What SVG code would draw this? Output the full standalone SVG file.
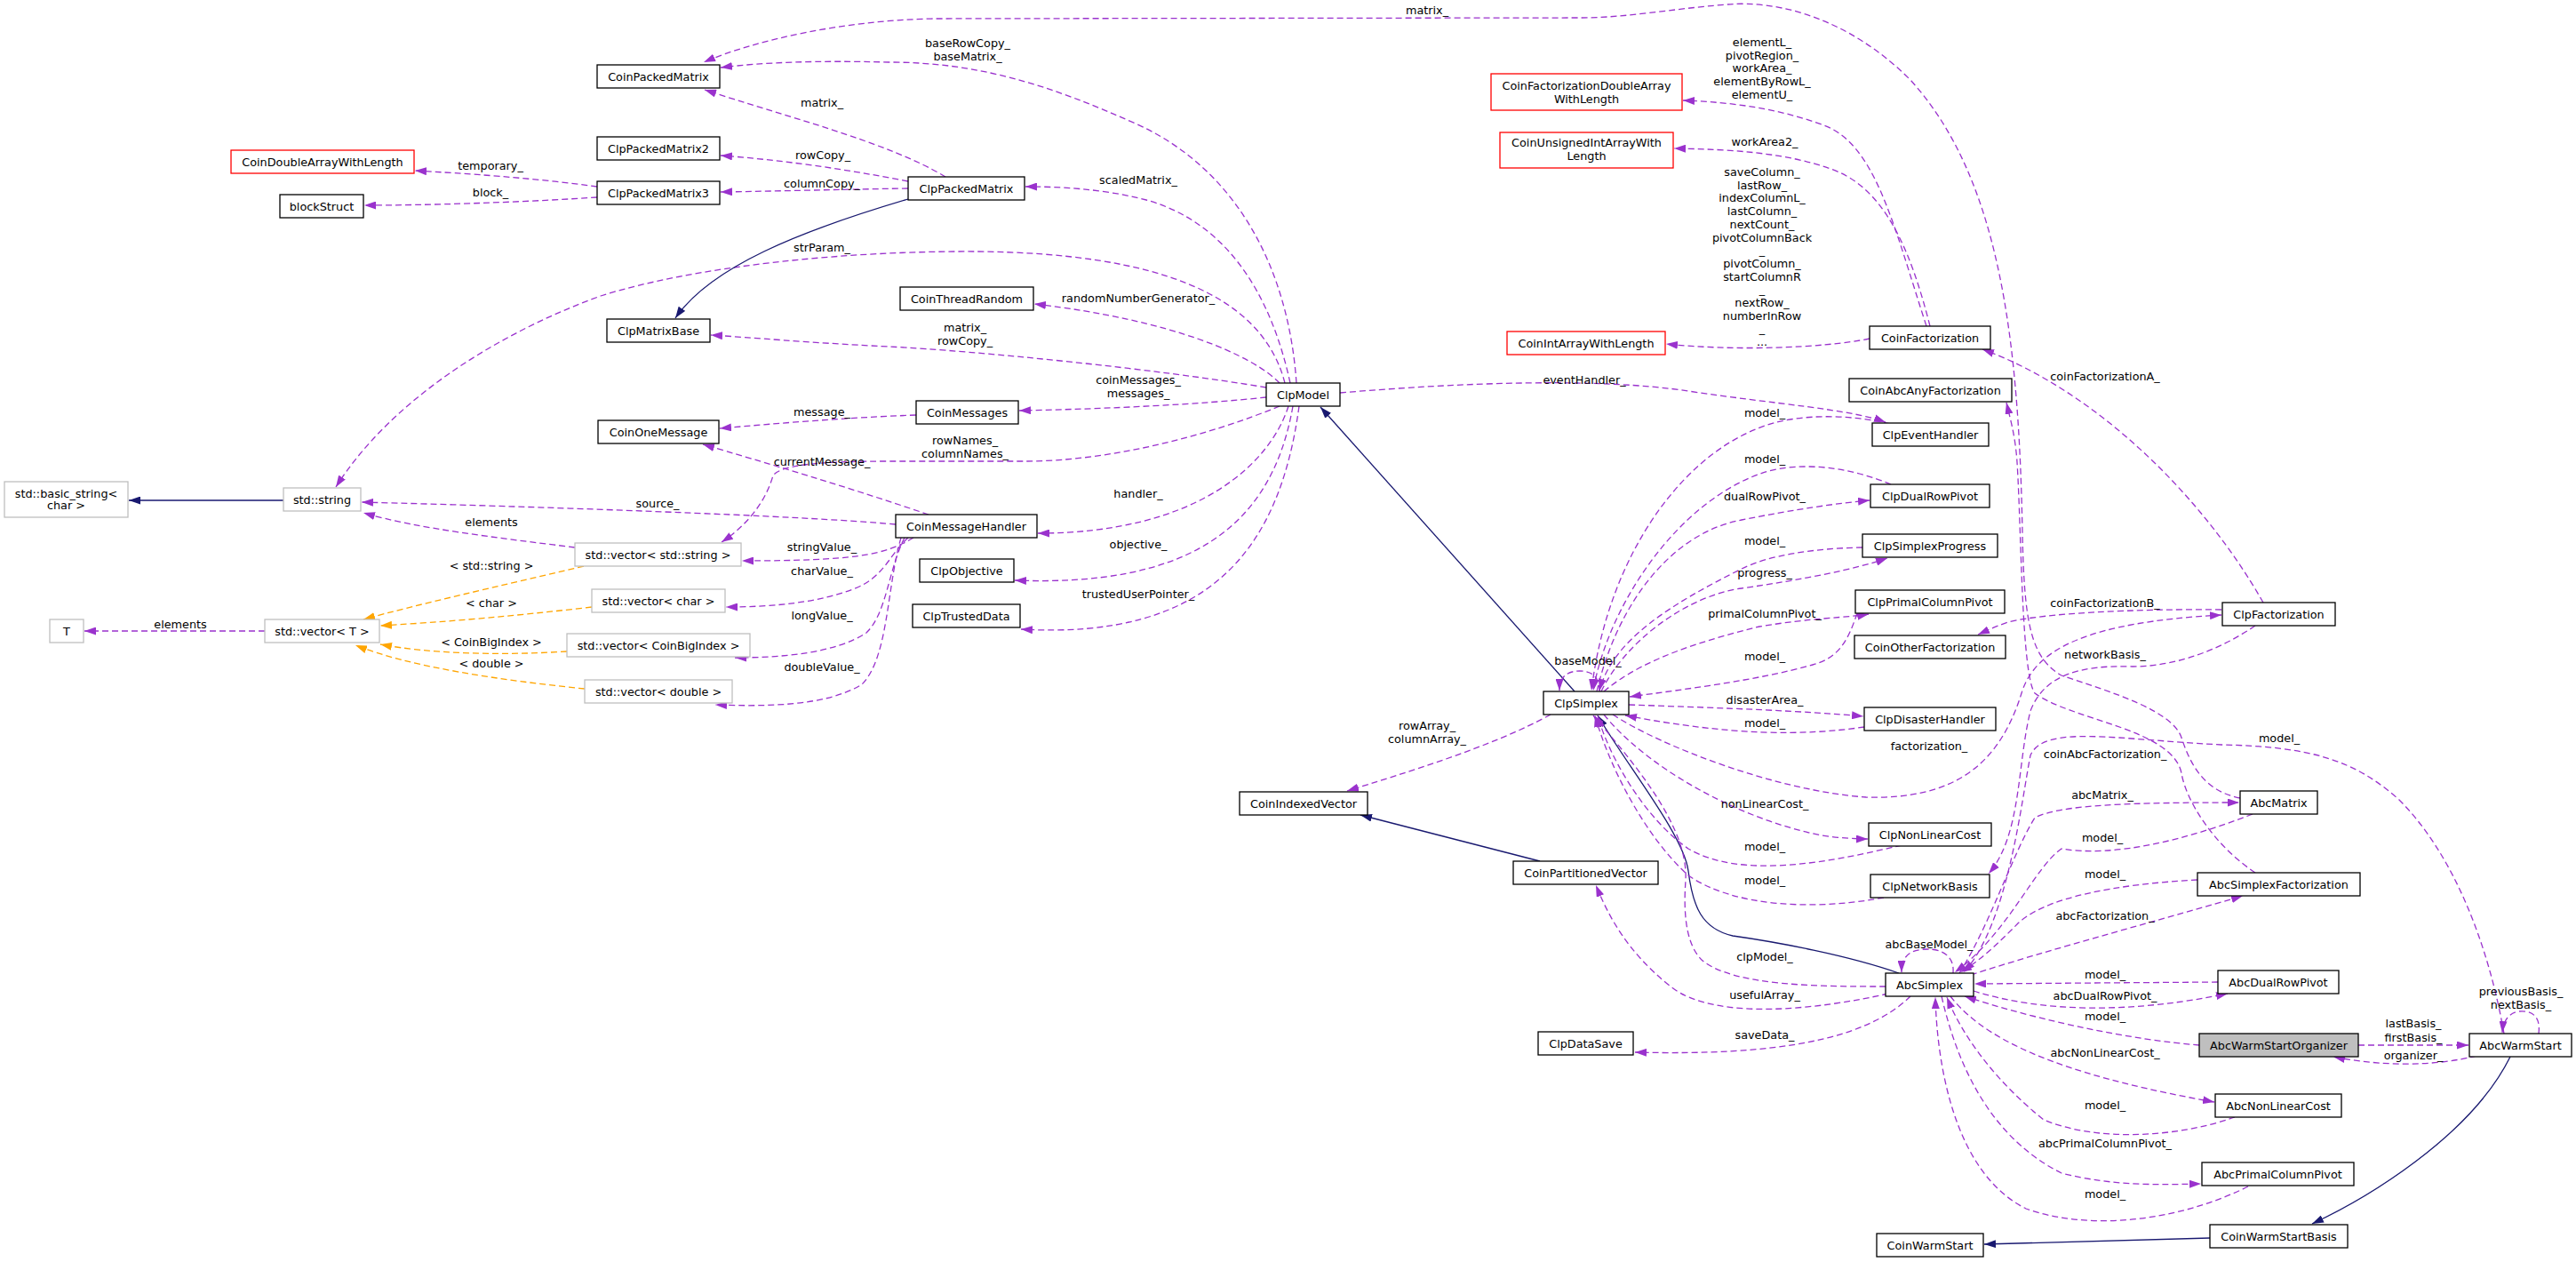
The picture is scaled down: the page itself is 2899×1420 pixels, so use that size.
<svg xmlns="http://www.w3.org/2000/svg" width="2899" height="1420" viewBox="0 0 2899 1420">
<defs>
<style>
text{font-family:"DejaVu Sans","Liberation Sans",sans-serif;font-size:12.8px;text-anchor:middle;fill:#000}
.n rect{fill:#fff;stroke:#000;stroke-width:1.3}
.g rect{fill:#fff;stroke:#bfbfbf;stroke-width:1.3}
.r rect{fill:#fff;stroke:#ff0000;stroke-width:1.3}
.f rect{fill:#bfbfbf;stroke:#000;stroke-width:1.3}
.e{fill:none;stroke:#9a32cd;stroke-width:1.3;stroke-dasharray:7,4;marker-end:url(#ap)}
.t{fill:none;stroke:#ffa500;stroke-width:1.3;stroke-dasharray:7,4;marker-end:url(#ao)}
.i{fill:none;stroke:#191970;stroke-width:1.3;marker-end:url(#an)}
</style>
<marker id="ap" viewBox="0 0 13 9" refX="13" refY="4.5" markerWidth="13" markerHeight="9" markerUnits="userSpaceOnUse" orient="auto"><path d="M0,0 L13,4.5 L0,9 z" fill="#9a32cd" stroke="none"/></marker>
<marker id="ao" viewBox="0 0 13 9" refX="13" refY="4.5" markerWidth="13" markerHeight="9" markerUnits="userSpaceOnUse" orient="auto"><path d="M0,0 L13,4.5 L0,9 z" fill="#ffa500" stroke="none"/></marker>
<marker id="an" viewBox="0 0 13 9" refX="13" refY="4.5" markerWidth="13" markerHeight="9" markerUnits="userSpaceOnUse" orient="auto"><path d="M0,0 L13,4.5 L0,9 z" fill="#191970" stroke="none"/></marker>
</defs>
<rect x="0" y="0" width="2899" height="1420" fill="#fff"/>
<g id="connectors">
<path class="e" d="M1064,199 C1000,160 880,130 793,101"/>
<path class="e" d="M1022,204 C950,190 880,180 811,175"/>
<path class="e" d="M1022,212 C950,213 880,215 811,216"/>
<path class="e" d="M672,210 C600,200 520,195 467,192"/>
<path class="e" d="M672,222 C580,228 480,231 410,231"/>
<path class="e" d="M1459,431 C1450,300 1390,190 1280,140 C1180,95 1100,70 1000,70 C920,68 860,70 811,76"/>
<path class="e" d="M1452,431 C1430,330 1380,250 1290,225 C1240,212 1190,210 1154,210"/>
<path class="e" d="M1446,431 C1420,330 1300,285 1100,283 C950,282 780,300 676,333 C560,375 440,450 378,548"/>
<path class="e" d="M1440,431 C1410,400 1320,360 1164,342"/>
<path class="e" d="M1425,436 C1300,415 1100,395 1000,390 C900,385 850,380 800,377"/>
<path class="e" d="M1425,447 C1350,455 1250,460 1147,462"/>
<path class="e" d="M1031,467 C950,470 880,476 810,482"/>
<path class="e" d="M1440,457 C1360,490 1250,519 1153,519 L1000,519 C930,519 880,522 870,535 C860,570 835,595 812,610"/>
<path class="e" d="M1045,579 C960,550 860,520 791,500"/>
<path class="e" d="M1008,590 C900,580 600,570 407,565"/>
<path class="e" d="M647,616 C560,605 470,595 409,577"/>
<path class="e" d="M1450,457 C1430,520 1350,600 1168,600"/>
<path class="e" d="M1455,457 C1430,600 1330,660 1142,653"/>
<path class="e" d="M1462,457 C1440,620 1360,720 1149,708"/>
<path class="e" d="M1028,605 C995,625 960,631 835,631"/>
<path class="e" d="M1022,605 C1000,625 995,650 960,663 C920,678 870,683 817,683"/>
<path class="e" d="M1018,605 C1000,640 998,690 975,712 C940,735 880,740 827,740"/>
<path class="e" d="M1014,605 C998,660 1000,740 970,770 C930,795 860,795 805,793"/>
<path class="e" d="M298,710 L95,710"/>
<path class="t" d="M657,637 C560,660 470,680 409,697"/>
<path class="t" d="M666,683 C580,693 500,700 428,704"/>
<path class="t" d="M638,733 C560,738 480,735 428,725"/>
<path class="t" d="M658,775 C560,765 460,750 400,726"/>
<path class="i" d="M1022,224 C900,260 800,300 760,358"/>
<path class="i" d="M319,563 L145,563"/>
<path class="i" d="M1772,778 L1486,458"/>
<path class="i" d="M2825,1189 C2780,1280 2660,1350 2602,1377"/>
<path class="i" d="M2487,1393 L2233,1400"/>
<path class="i" d="M2137,1095 C2080,1075 2000,1060 1950,1053 C1915,1045 1905,1020 1900,980 C1895,940 1830,860 1798,805"/>
<path class="i" d="M1733,969 L1531,917"/>
<path class="e" d="M1508,442 C1650,430 1800,425 1900,440 C2000,455 2080,460 2122,475"/>
<path class="e" d="M2127,477 C2090,468 2040,465 2000,475 C1900,500 1810,620 1791,777"/>
<path class="e" d="M2128,545 C2080,525 2030,520 1990,530 C1890,560 1810,680 1793,777"/>
<path class="e" d="M1797,778 C1820,680 1880,600 1960,585 C2020,573 2070,566 2104,563"/>
<path class="e" d="M2096,616 C2040,617 1990,625 1960,640 C1880,680 1815,720 1800,777"/>
<path class="e" d="M1802,778 C1830,720 1900,670 1960,662 C2030,652 2090,640 2124,628"/>
<path class="e" d="M1805,778 C1850,740 1920,720 1980,705 C2040,695 2080,695 2103,691"/>
<path class="e" d="M2090,690 C2080,720 2070,740 2040,748 C1980,765 1900,775 1834,784"/>
<path class="e" d="M1833,793 C1950,797 2030,800 2097,806"/>
<path class="e" d="M2098,818 C2030,828 1950,828 1829,805"/>
<path class="e" d="M1815,804 C1870,840 2000,890 2100,897 C2200,900 2250,860 2275,780 C2290,730 2350,700 2500,692"/>
<path class="e" d="M1805,804 C1850,860 1950,920 2050,940 C2070,943 2090,944 2102,944"/>
<path class="e" d="M2140,951 C2060,970 1960,990 1900,955 C1850,920 1810,850 1798,805"/>
<path class="e" d="M2120,1010 C2040,1025 1950,1020 1900,985 C1850,940 1810,860 1795,805"/>
<path class="e" d="M2538,704 C2500,730 2450,750 2400,750 C2340,748 2300,760 2285,800 C2270,860 2275,940 2238,983"/>
<path class="e" d="M2500,686 C2400,685 2300,690 2260,700 C2245,705 2235,710 2226,714"/>
<path class="e" d="M2547,678 C2480,560 2360,440 2231,393"/>
<path class="e" d="M2168,367 C2130,250 2110,160 2050,140 C2000,122 1950,115 1894,113"/>
<path class="e" d="M2172,367 C2150,280 2120,210 2060,190 C2010,172 1950,168 1884,167"/>
<path class="e" d="M2104,381 C2050,392 1950,395 1875,387"/>
<path class="e" d="M2538,982 C2490,950 2460,900 2455,870 C2445,820 2330,810 2290,780 C2275,760 2275,600 2270,520 C2268,490 2262,470 2258,453"/>
<path class="e" d="M2205,1095 C2240,1040 2265,960 2290,920 C2320,905 2400,903 2520,903"/>
<path class="e" d="M2535,916 C2460,945 2380,965 2320,955 C2290,975 2260,1050 2200,1094"/>
<path class="e" d="M2521,898 C2480,890 2465,860 2455,830 C2445,800 2380,780 2320,760 C2285,740 2278,700 2276,600 C2272,380 2250,200 2150,90 C2080,20 2000,0 1944,5 C1880,10 1830,20 1780,20 L1050,21 C950,23 850,45 792,70"/>
<path class="e" d="M2473,990 C2380,995 2300,1010 2270,1040 C2250,1060 2230,1080 2206,1094"/>
<path class="e" d="M2218,1097 C2300,1070 2450,1030 2524,1008"/>
<path class="e" d="M2198,1095 C2200,1072 2180,1068 2170,1068 C2150,1068 2140,1075 2140,1094"/>
<path class="e" d="M2496,1105 L2222,1107"/>
<path class="e" d="M2221,1115 C2300,1140 2400,1140 2507,1118"/>
<path class="e" d="M2475,1176 C2400,1170 2300,1150 2211,1121"/>
<path class="e" d="M2195,1121 C2240,1180 2350,1215 2492,1240"/>
<path class="e" d="M2515,1257 C2450,1280 2360,1285 2300,1260 C2250,1220 2210,1170 2191,1122"/>
<path class="e" d="M2185,1121 C2210,1230 2260,1290 2320,1320 C2380,1335 2430,1333 2477,1332"/>
<path class="e" d="M2530,1335 C2450,1375 2350,1385 2280,1360 C2200,1320 2180,1200 2178,1122"/>
<path class="e" d="M2654,1176 L2778,1176"/>
<path class="e" d="M2787,1188 C2740,1200 2680,1200 2626,1189"/>
<path class="e" d="M2857,1163 C2860,1140 2845,1137 2835,1138 C2822,1140 2817,1150 2816,1162"/>
<path class="e" d="M2818,1163 C2800,1060 2760,960 2700,900 C2650,855 2600,840 2500,838 C2380,832 2300,815 2285,850 C2275,900 2260,1040 2210,1094"/>
<path class="e" d="M2122,1110 C2050,1110 1950,1110 1915,1080 C1895,1060 1895,1020 1897,990 C1900,930 1840,860 1793,805"/>
<path class="e" d="M2125,1118 C2050,1135 1930,1150 1880,1110 C1830,1070 1810,1030 1796,996"/>
<path class="e" d="M2150,1121 C2100,1170 2000,1188 1840,1184"/>
<path class="e" d="M1745,804 C1680,840 1580,870 1516,890"/>
<path class="e" d="M1800,778 C1800,760 1790,755 1778,755 C1763,755 1755,762 1755,777"/>
<g id="edge-labels">
<text x="925" y="120">matrix_</text>
<text x="926" y="179">rowCopy_</text>
<text x="925" y="211">columnCopy_</text>
<text x="552" y="191">temporary_</text>
<text x="552" y="221">block_</text>
<text x="1089" y="53">baseRowCopy_</text>
<text x="1089" y="68">baseMatrix_</text>
<text x="1281" y="207">scaledMatrix_</text>
<text x="925" y="283">strParam_</text>
<text x="1281" y="340">randomNumberGenerator_</text>
<text x="1086" y="373">matrix_</text>
<text x="1086" y="388">rowCopy_</text>
<text x="1281" y="432">coinMessages_</text>
<text x="1281" y="447">messages_</text>
<text x="925" y="468">message_</text>
<text x="925" y="524">currentMessage_</text>
<text x="1086" y="500">rowNames_</text>
<text x="1086" y="515">columnNames_</text>
<text x="740" y="571">source_</text>
<text x="553" y="592">elements</text>
<text x="1281" y="560">handler_</text>
<text x="1281" y="617">objective_</text>
<text x="1281" y="673">trustedUserPointer_</text>
<text x="925" y="620">stringValue_</text>
<text x="925" y="647">charValue_</text>
<text x="925" y="697">longValue_</text>
<text x="925" y="755">doubleValue_</text>
<text x="203" y="707">elements</text>
<text x="553" y="641">&lt; std::string &gt;</text>
<text x="553" y="683">&lt; char &gt;</text>
<text x="553" y="727">&lt; CoinBigIndex &gt;</text>
<text x="553" y="751">&lt; double &gt;</text>
<text x="1606" y="16">matrix_</text>
<text x="1783" y="432">eventHandler_</text>
<text x="1986" y="469">model_</text>
<text x="1986" y="521">model_</text>
<text x="1986" y="563">dualRowPivot_</text>
<text x="1986" y="613">model_</text>
<text x="1986" y="649">progress_</text>
<text x="1986" y="695">primalColumnPivot_</text>
<text x="1986" y="743">model_</text>
<text x="1986" y="792">disasterArea_</text>
<text x="1986" y="818">model_</text>
<text x="2171" y="844">factorization_</text>
<text x="1986" y="909">nonLinearCost_</text>
<text x="1986" y="957">model_</text>
<text x="1986" y="995">model_</text>
<text x="1986" y="1081">clpModel_</text>
<text x="1986" y="1124">usefulArray_</text>
<text x="1986" y="1169">saveData_</text>
<text x="1787" y="748">baseModel_</text>
<text x="1606" y="821">rowArray_</text>
<text x="1606" y="836">columnArray_</text>
<text x="2369" y="428">coinFactorizationA_</text>
<text x="1983" y="52">elementL_</text>
<text x="1983" y="67">pivotRegion_</text>
<text x="1983" y="81">workArea_</text>
<text x="1983" y="96">elementByRowL_</text>
<text x="1983" y="111">elementU_</text>
<text x="1986" y="164">workArea2_</text>
<text x="1983" y="198">saveColumn_</text>
<text x="1983" y="213">lastRow_</text>
<text x="1983" y="227">indexColumnL_</text>
<text x="1983" y="242">lastColumn_</text>
<text x="1983" y="257">nextCount_</text>
<text x="1983" y="272">pivotColumnBack</text>
<text x="1983" y="286">_</text>
<text x="1983" y="301">pivotColumn_</text>
<text x="1983" y="316">startColumnR</text>
<text x="1983" y="330">_</text>
<text x="1983" y="345">nextRow_</text>
<text x="1983" y="360">numberInRow</text>
<text x="1983" y="374">_</text>
<text x="1983" y="389">...</text>
<text x="2369" y="683">coinFactorizationB_</text>
<text x="2369" y="741">networkBasis_</text>
<text x="2565" y="835">model_</text>
<text x="2369" y="853">coinAbcFactorization_</text>
<text x="2366" y="899">abcMatrix_</text>
<text x="2366" y="947">model_</text>
<text x="2369" y="988">model_</text>
<text x="2369" y="1035">abcFactorization_</text>
<text x="2171" y="1067">abcBaseModel_</text>
<text x="2369" y="1101">model_</text>
<text x="2369" y="1125">abcDualRowPivot_</text>
<text x="2369" y="1148">model_</text>
<text x="2369" y="1189">abcNonLinearCost_</text>
<text x="2369" y="1248">model_</text>
<text x="2369" y="1291">abcPrimalColumnPivot_</text>
<text x="2369" y="1348">model_</text>
<text x="2837" y="1120">previousBasis_</text>
<text x="2837" y="1135">nextBasis_</text>
<text x="2716" y="1156">lastBasis_</text>
<text x="2716" y="1172">firstBasis_</text>
<text x="2716" y="1192">organizer_</text>
</g>
</g>
<g id="CoinPackedMatrix" class="n"><rect x="672" y="73" width="138" height="26"/><text x="741" y="90.6">CoinPackedMatrix</text></g>
<g id="ClpPackedMatrix2" class="n"><rect x="672" y="154" width="138" height="26"/><text x="741" y="171.6">ClpPackedMatrix2</text></g>
<g id="ClpPackedMatrix3" class="n"><rect x="672" y="204" width="138" height="26"/><text x="741" y="221.6">ClpPackedMatrix3</text></g>
<g id="CoinDoubleArrayWithLength" class="r"><rect x="260" y="169" width="206" height="26"/><text x="363" y="186.6">CoinDoubleArrayWithLength</text></g>
<g id="blockStruct" class="n"><rect x="315" y="219" width="94" height="26"/><text x="362" y="236.6">blockStruct</text></g>
<g id="ClpMatrixBase" class="n"><rect x="683" y="359" width="116" height="26"/><text x="741" y="376.6">ClpMatrixBase</text></g>
<g id="CoinOneMessage" class="n"><rect x="673" y="473" width="136" height="26"/><text x="741" y="490.6">CoinOneMessage</text></g>
<g id="ClpPackedMatrix" class="n"><rect x="1022" y="199" width="131" height="26"/><text x="1087.5" y="216.6">ClpPackedMatrix</text></g>
<g id="CoinThreadRandom" class="n"><rect x="1013" y="323" width="150" height="26"/><text x="1088" y="340.6">CoinThreadRandom</text></g>
<g id="CoinMessages" class="n"><rect x="1031" y="451" width="115" height="26"/><text x="1088.5" y="468.6">CoinMessages</text></g>
<g id="ClpModel" class="n"><rect x="1425" y="431" width="83" height="26"/><text x="1466.5" y="448.6">ClpModel</text></g>
<g id="CoinFactorizationDoubleArrayWithLength" class="r"><rect x="1678" y="83" width="215" height="41"/><text x="1785.5" y="100.6">CoinFactorizationDoubleArray</text><text x="1785.5" y="115.6">WithLength</text></g>
<g id="CoinUnsignedIntArrayWithLength" class="r"><rect x="1688" y="149" width="195" height="40"/><text x="1785.5" y="165.2">CoinUnsignedIntArrayWith</text><text x="1785.5" y="180.2">Length</text></g>
<g id="CoinIntArrayWithLength" class="r"><rect x="1696" y="373" width="178" height="26"/><text x="1785" y="390.6">CoinIntArrayWithLength</text></g>
<g id="CoinFactorization" class="n"><rect x="2104" y="367" width="136" height="26"/><text x="2172" y="384.6">CoinFactorization</text></g>
<g id="CoinAbcAnyFactorization" class="n"><rect x="2081" y="426" width="183" height="26"/><text x="2172.5" y="443.6">CoinAbcAnyFactorization</text></g>
<g id="std_basic_string_char" class="g"><rect x="5" y="542" width="139" height="40"/><text x="74.5" y="559.5">std::basic_string&lt;</text><text x="74.5" y="572.5">char &gt;</text></g>
<g id="std_string" class="g"><rect x="319" y="549" width="87" height="26"/><text x="362.5" y="566.6">std::string</text></g>
<g id="std_vector_std_string" class="g"><rect x="647" y="611" width="187" height="26"/><text x="740.5" y="628.6">std::vector&lt; std::string &gt;</text></g>
<g id="std_vector_char" class="g"><rect x="666" y="663" width="150" height="26"/><text x="741" y="680.6">std::vector&lt; char &gt;</text></g>
<g id="T" class="g"><rect x="56" y="697" width="38" height="26"/><text x="75" y="714.6">T</text></g>
<g id="std_vector_T" class="g"><rect x="298" y="697" width="129" height="26"/><text x="362.5" y="714.6">std::vector&lt; T &gt;</text></g>
<g id="std_vector_CoinBigIndex" class="g"><rect x="638" y="713" width="206" height="26"/><text x="741" y="730.6">std::vector&lt; CoinBigIndex &gt;</text></g>
<g id="std_vector_double" class="g"><rect x="658" y="765" width="166" height="26"/><text x="741" y="782.6">std::vector&lt; double &gt;</text></g>
<g id="CoinMessageHandler" class="n"><rect x="1008" y="579" width="159" height="26"/><text x="1087.5" y="596.6">CoinMessageHandler</text></g>
<g id="ClpObjective" class="n"><rect x="1035" y="629" width="106" height="26"/><text x="1088" y="646.6">ClpObjective</text></g>
<g id="ClpTrustedData" class="n"><rect x="1027" y="680" width="121" height="26"/><text x="1087.5" y="697.6">ClpTrustedData</text></g>
<g id="ClpSimplex" class="n"><rect x="1737" y="778" width="96" height="26"/><text x="1785" y="795.6">ClpSimplex</text></g>
<g id="CoinIndexedVector" class="n"><rect x="1395" y="891" width="144" height="26"/><text x="1467" y="908.6">CoinIndexedVector</text></g>
<g id="ClpEventHandler" class="n"><rect x="2107" y="476" width="131" height="26"/><text x="2172.5" y="493.6">ClpEventHandler</text></g>
<g id="ClpDualRowPivot" class="n"><rect x="2105" y="545" width="134" height="26"/><text x="2172" y="562.6">ClpDualRowPivot</text></g>
<g id="ClpSimplexProgress" class="n"><rect x="2096" y="601" width="152" height="26"/><text x="2172" y="618.6">ClpSimplexProgress</text></g>
<g id="ClpPrimalColumnPivot" class="n"><rect x="2088" y="664" width="168" height="26"/><text x="2172" y="681.6">ClpPrimalColumnPivot</text></g>
<g id="CoinOtherFactorization" class="n"><rect x="2087" y="715" width="170" height="26"/><text x="2172" y="732.6">CoinOtherFactorization</text></g>
<g id="ClpFactorization" class="n"><rect x="2501" y="678" width="127" height="26"/><text x="2564.5" y="695.6">ClpFactorization</text></g>
<g id="ClpDisasterHandler" class="n"><rect x="2098" y="796" width="148" height="26"/><text x="2172" y="813.6">ClpDisasterHandler</text></g>
<g id="AbcMatrix" class="n"><rect x="2521" y="890" width="87" height="26"/><text x="2564.5" y="907.6">AbcMatrix</text></g>
<g id="ClpNonLinearCost" class="n"><rect x="2103" y="926" width="138" height="26"/><text x="2172" y="943.6">ClpNonLinearCost</text></g>
<g id="ClpNetworkBasis" class="n"><rect x="2105" y="984" width="134" height="26"/><text x="2172" y="1001.6">ClpNetworkBasis</text></g>
<g id="AbcSimplexFactorization" class="n"><rect x="2473" y="982" width="183" height="26"/><text x="2564.5" y="999.6">AbcSimplexFactorization</text></g>
<g id="AbcSimplex" class="n"><rect x="2122" y="1095" width="99" height="26"/><text x="2171.5" y="1112.6">AbcSimplex</text></g>
<g id="AbcDualRowPivot" class="n"><rect x="2496" y="1092" width="136" height="26"/><text x="2564" y="1109.6">AbcDualRowPivot</text></g>
<g id="AbcWarmStartOrganizer" class="f"><rect x="2475" y="1163" width="179" height="26"/><text x="2564.5" y="1180.6">AbcWarmStartOrganizer</text></g>
<g id="AbcWarmStart" class="n"><rect x="2779" y="1163" width="115" height="26"/><text x="2836.5" y="1180.6">AbcWarmStart</text></g>
<g id="AbcNonLinearCost" class="n"><rect x="2493" y="1231" width="142" height="26"/><text x="2564" y="1248.6">AbcNonLinearCost</text></g>
<g id="AbcPrimalColumnPivot" class="n"><rect x="2478" y="1308" width="171" height="26"/><text x="2563.5" y="1325.6">AbcPrimalColumnPivot</text></g>
<g id="CoinWarmStartBasis" class="n"><rect x="2487" y="1378" width="155" height="26"/><text x="2564.5" y="1395.6">CoinWarmStartBasis</text></g>
<g id="CoinWarmStart" class="n"><rect x="2112" y="1388" width="120" height="26"/><text x="2172" y="1405.6">CoinWarmStart</text></g>
<g id="CoinPartitionedVector" class="n"><rect x="1703" y="969" width="163" height="26"/><text x="1784.5" y="986.6">CoinPartitionedVector</text></g>
<g id="ClpDataSave" class="n"><rect x="1731" y="1161" width="107" height="26"/><text x="1784.5" y="1178.6">ClpDataSave</text></g>
</svg>
